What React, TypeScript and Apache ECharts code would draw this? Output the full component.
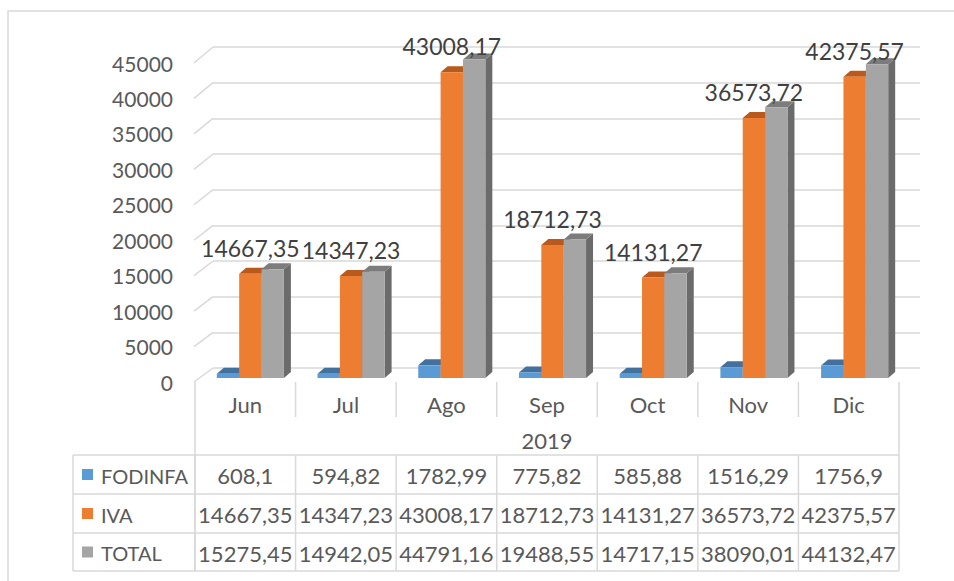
import React, { useEffect, useRef } from 'react';
import * as echarts from 'echarts';

const months = ['Jun', 'Jul', 'Ago', 'Sep', 'Oct', 'Nov', 'Dic'];
const fodinfa = [608.1, 594.82, 1782.99, 775.82, 585.88, 1516.29, 1756.9];
const iva = [14667.35, 14347.23, 43008.17, 18712.73, 14131.27, 36573.72, 42375.57];
const total = [15275.45, 14942.05, 44791.16, 19488.55, 14717.15, 38090.01, 44132.47];
const seriesNames = ['FODINFA', 'IVA', 'TOTAL'];
const yearLabel = '2019';
const yMin = 0;
const yMax = 45000;
const yInterval = 5000;

const FONT = 'Lato, "Open Sans", sans-serif';
const TXT = '#595959';
const LINE = '#D9D9D9';
const colors = ['#5B9BD5', '#ED7D31', '#A5A5A5'];
const topColors = ['#41719C', '#B95A1C', '#7C7C7C'];
const sideColors = ['#3B6790', '#A8511A', '#6B6B6B'];

const fmt = (v: number) => String(v).replace('.', ',');

export default function App() {
  const ref = useRef<HTMLDivElement>(null);
  useEffect(() => {
    const chart = echarts.init(ref.current!, null, { renderer: 'svg' });
    const seriesData = [fodinfa, iva, total];

    // table layout (pixels)
    const tblLeft = 195, tblWidth = 704, tblTop = 382, tblBottom = 571;
    const catRowBottom = 417;
    const rowTops = [455, 494, 533, 571];

    const barSeries = seriesData.map((arr, s) => ({
      type: 'custom',
      name: seriesNames[s],
      xAxisIndex: 0,
      yAxisIndex: 0,
      clip: false,
      silent: true,
      data: arr.map((v, i) => [i, v]),
      renderItem: (params: any, api: any) => {
        const i = api.value(0);
        const v = api.value(1);
        const base = api.coord([i, 0]);
        const top = api.coord([i, v]);
        const bw = api.size([1, 0])[0];
        const w = bw * 0.222;
        const x = base[0] - 1.5 * w + s * w;
        const dx = 7, dy = -6;
        const y0 = top[1], y1 = base[1];
        const children: any[] = [
          { type: 'polygon', shape: { points: [[x + w, y0], [x + w + dx, y0 + dy], [x + w + dx, y1 + dy], [x + w, y1]] }, style: { fill: sideColors[s] } },
          { type: 'polygon', shape: { points: [[x, y0], [x + dx, y0 + dy], [x + w + dx, y0 + dy], [x + w, y0]] }, style: { fill: topColors[s] } },
          { type: 'rect', shape: { x, y: y0, width: w, height: y1 - y0 }, style: { fill: colors[s] } },
        ];
        if (s === 1) {
          children.push({
            type: 'text', z2: 100,
            style: { text: fmt(v), x: x + w / 2, y: y0 - 26, align: 'center', verticalAlign: 'middle', fill: '#404040', fontSize: 23, fontFamily: FONT },
          });
        }
        return { type: 'group', children };
      },
    }));

    const tableSeries = {
      type: 'custom',
      xAxisIndex: 3,
      yAxisIndex: 3,
      clip: false,
      silent: true,
      data: months.map((m, i) => [i, fodinfa[i], iva[i], total[i]]),
      renderItem: (params: any, api: any) => {
        const idx = params.dataIndex;
        const c = api.coord([api.value(0), 1]);
        const bw = api.size([1, 0])[0];
        const cx = c[0];
        const xl = cx - bw / 2, xr = cx + bw / 2;
        const ls = { stroke: LINE, lineWidth: 1.5 };
        const children: any[] = [];
        children.push({ type: 'text', style: { text: months[idx], x: cx, y: (tblTop + catRowBottom) / 2 + 5, align: 'center', verticalAlign: 'middle', fill: TXT, fontSize: 22, fontFamily: FONT } });
        children.push({ type: 'line', shape: { x1: xl, y1: tblTop, x2: xl, y2: idx === 0 ? tblBottom : catRowBottom }, style: ls });
        children.push({ type: 'line', shape: { x1: xl, y1: rowTops[0], x2: xl, y2: tblBottom }, style: ls });
        if (idx === months.length - 1) {
          children.push({ type: 'line', shape: { x1: xr, y1: tblTop, x2: xr, y2: tblBottom }, style: ls });
        }
        rowTops.forEach((ry) => {
          children.push({ type: 'line', shape: { x1: xl, y1: ry, x2: xr, y2: ry }, style: ls });
        });
        const vals = [api.value(1), api.value(2), api.value(3)];
        vals.forEach((v, r) => {
          children.push({ type: 'text', style: { text: fmt(v), x: cx, y: (rowTops[r] + rowTops[r + 1]) / 2 + 1, align: 'center', verticalAlign: 'middle', fill: TXT, fontSize: 22, fontFamily: FONT } });
        });
        return { type: 'group', children };
      },
    };

    chart.setOption({
      animation: false,
      grid: [
        { left: 200, top: 58, width: 705, height: 320 },
        { left: 213, top: 47, width: 707, height: 321 },
        { left: 195, top: 63, width: 704, height: 319 },
        { left: tblLeft, top: tblTop, width: tblWidth, height: tblBottom - tblTop },
      ],
      xAxis: [
        { type: 'category', gridIndex: 0, data: months, show: false },
        { type: 'value', gridIndex: 1, min: 0, max: 1, show: false },
        { type: 'value', gridIndex: 2, min: 0, max: 1, show: false },
        { type: 'category', gridIndex: 3, data: months, show: false },
      ],
      yAxis: [
        { type: 'value', gridIndex: 0, min: yMin, max: yMax, interval: yInterval, show: false },
        {
          type: 'value', gridIndex: 1, min: yMin, max: yMax, interval: yInterval,
          axisLabel: { show: false }, axisLine: { show: false }, axisTick: { show: false },
          splitLine: { show: true, lineStyle: { color: LINE, width: 1.5 } },
        },
        {
          type: 'value', gridIndex: 2, min: yMin, max: yMax, interval: yInterval,
          axisLabel: { color: TXT, fontSize: 21, fontFamily: FONT, margin: 22, formatter: (v: number) => String(v) },
          axisLine: { show: false }, axisTick: { show: false }, splitLine: { show: false },
        },
        { type: 'value', gridIndex: 3, min: 0, max: 1, show: false },
      ],
      series: [...barSeries, tableSeries],
    });

    const graphics: any[] = [];
    for (let v = yMin; v <= yMax; v += yInterval) {
      const fy = chart.convertToPixel({ yAxisIndex: 2 } as any, v) as number;
      const by = chart.convertToPixel({ yAxisIndex: 1 } as any, v) as number;
      graphics.push({ type: 'line', silent: true, shape: { x1: 194, y1: fy, x2: 213, y2: by }, style: { stroke: LINE, lineWidth: 1.5 } });
    }
    graphics.push({ type: 'rect', silent: true, shape: { x: 8, y: 11, width: 1000, height: 620 }, style: { fill: 'none', stroke: LINE, lineWidth: 1.5 } });
    graphics.push({ type: 'text', silent: true, style: { text: yearLabel, x: tblLeft + tblWidth / 2, y: (catRowBottom + rowTops[0]) / 2 + 4, align: 'center', verticalAlign: 'middle', fill: TXT, fontSize: 22, fontFamily: FONT } });
    const legLeft = 73;
    const ls = { stroke: LINE, lineWidth: 1.5 };
    graphics.push({ type: 'line', silent: true, shape: { x1: legLeft, y1: rowTops[0], x2: legLeft, y2: rowTops[3] }, style: ls });
    rowTops.forEach((ry) => {
      graphics.push({ type: 'line', silent: true, shape: { x1: legLeft, y1: ry, x2: tblLeft, y2: ry }, style: ls });
    });
    seriesNames.forEach((n, r) => {
      const cy = (rowTops[r] + rowTops[r + 1]) / 2;
      graphics.push({ type: 'rect', silent: true, shape: { x: 82, y: cy - 5.5, width: 11, height: 11 }, style: { fill: colors[r] } });
      graphics.push({ type: 'text', silent: true, style: { text: n, x: 101, y: cy + 1, align: 'left', verticalAlign: 'middle', fill: TXT, fontSize: 20, fontFamily: FONT } });
    });
    chart.setOption({ graphic: graphics });

    return () => chart.dispose();
  }, []);
  return <div ref={ref} style={{ position: 'absolute', left: 0, top: 0, width: 954, height: 581, background: '#fff' }} />;
}
